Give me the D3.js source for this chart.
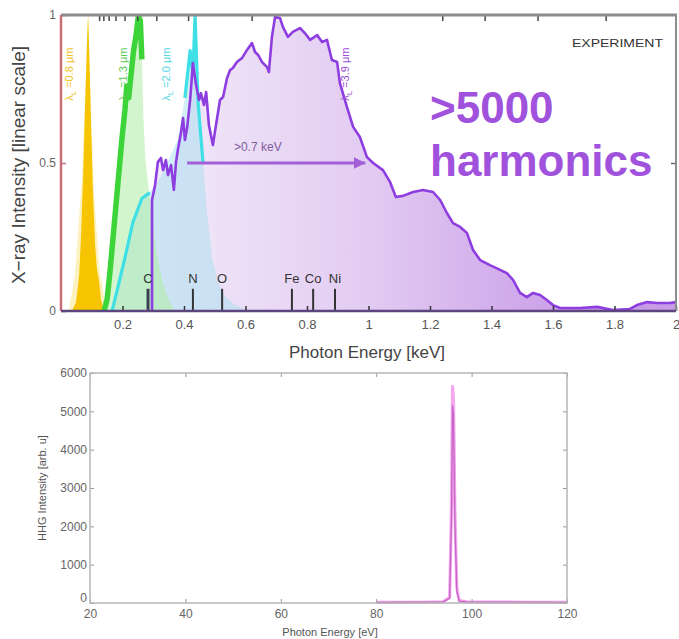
<!DOCTYPE html>
<html>
<head>
<meta charset="utf-8">
<script src="https://cdn.jsdelivr.net/npm/d3@7"></script>
<style>
  body { margin: 0; background: #fff; }
  svg { display: block; }
  text { font-family: "Liberation Sans", Arial, sans-serif; }
</style>
</head>
<body>
<svg id="fig" width="679" height="639"></svg>
<script>
// ---------- Upper panel: HHG spectra for four driving wavelengths ----------
const energyTicks = [0.2, 0.4, 0.6, 0.8, 1.0, 1.2, 1.4, 1.6, 1.8, 2.0];
const intensityTicks = [0, 0.5, 1];
const wavelengthTicksNm = [10, 9, 8, 7, 6, 5, 4, 3, 2, 1, 0.9, 0.8, 0.7];

// λL = 0.8 µm
const yellowEnergy    = [0.036, 0.049, 0.059, 0.065, 0.072, 0.078, 0.085, 0.088, 0.091, 0.098, 0.104, 0.111, 0.117, 0.124, 0.130, 0.140];
const yellowIntensity = [0, 0.03, 0.12, 0.25, 0.45, 0.68, 0.92, 1.0, 0.90, 0.62, 0.40, 0.22, 0.14, 0.10, 0.04, 0];
const yellowHaloEnergy    = [0.025, 0.045, 0.068, 0.088, 0.106, 0.125, 0.148];
const yellowHaloIntensity = [0, 0.12, 0.45, 1.0, 0.42, 0.14, 0];

// λL = 1.3 µm
const greenEnergy    = [0.140, 0.150, 0.160, 0.172, 0.185, 0.198, 0.208, 0.214, 0.220, 0.228, 0.236, 0.244, 0.252, 0.258, 0.263, 0.268, 0.274, 0.282, 0.295, 0.310, 0.330, 0.350, 0.370];
const greenIntensity = [0, 0.04, 0.14, 0.28, 0.43, 0.58, 0.68, 0.76, 0.72, 0.80, 0.88, 0.93, 1.0, 0.98, 0.85, 0.65, 0.52, 0.44, 0.32, 0.20, 0.10, 0.04, 0];
const greenEdgeLimit = 0.266;

// λL = 2.0 µm
const cyanEnergy    = [0.166, 0.185, 0.208, 0.234, 0.263, 0.289, 0.322, 0.354, 0.380, 0.403, 0.420, 0.429, 0.436, 0.446, 0.462, 0.475, 0.491, 0.511, 0.533, 0.566, 0.598, 0.615];
const cyanIntensity = [0, 0.08, 0.18, 0.30, 0.38, 0.40, 0.45, 0.52, 0.58, 0.72, 0.88, 0.80, 1.0, 0.70, 0.50, 0.33, 0.18, 0.10, 0.05, 0.02, 0.005, 0];

// λL = 3.9 µm
const purpleEnergy = [0.296, 0.296, 0.306, 0.315, 0.325, 0.332, 0.341, 0.348, 0.358, 0.367, 0.374, 0.380, 0.390, 0.397, 0.403, 0.410, 0.420, 0.429, 0.439, 0.449, 0.455, 0.465, 0.472, 0.481, 0.494, 0.504, 0.517, 0.527, 0.540, 0.550, 0.559, 0.572, 0.589, 0.605, 0.621, 0.631, 0.641, 0.654, 0.670, 0.676, 0.686, 0.696, 0.712, 0.722, 0.738, 0.754, 0.777, 0.793, 0.810, 0.833, 0.849, 0.865, 0.881, 0.898, 0.907, 0.930, 0.950, 0.972, 0.995, 1.015, 1.047, 1.070, 1.089, 1.112, 1.145, 1.177, 1.210, 1.233, 1.255, 1.275, 1.298, 1.320, 1.340, 1.363, 1.395, 1.428, 1.450, 1.470, 1.493, 1.515, 1.535, 1.558, 1.580, 1.600, 1.623, 1.688, 1.743, 1.795, 1.850, 1.873, 1.906, 1.938, 1.980, 2.000];
const purpleIntensity = [0, 0.375, 0.426, 0.503, 0.517, 0.476, 0.510, 0.459, 0.493, 0.409, 0.503, 0.544, 0.601, 0.652, 0.578, 0.618, 0.713, 0.838, 0.764, 0.713, 0.736, 0.696, 0.740, 0.628, 0.561, 0.628, 0.713, 0.723, 0.787, 0.814, 0.821, 0.841, 0.855, 0.882, 0.905, 0.875, 0.865, 0.841, 0.824, 0.807, 0.926, 0.993, 0.990, 0.959, 0.926, 0.943, 0.956, 0.939, 0.916, 0.932, 0.909, 0.916, 0.848, 0.841, 0.770, 0.689, 0.622, 0.588, 0.520, 0.500, 0.476, 0.436, 0.385, 0.389, 0.402, 0.409, 0.402, 0.375, 0.331, 0.297, 0.284, 0.264, 0.206, 0.172, 0.155, 0.139, 0.128, 0.105, 0.061, 0.047, 0.061, 0.054, 0.037, 0.020, 0.010, 0.010, 0.014, 0.003, 0.007, 0.020, 0.030, 0.027, 0.027, 0.030];

// absorption edges (keV)
const edgeNames    = ["C", "N", "O", "Fe", "Co", "Ni"];
const edgeEnergies = [0.283, 0.429, 0.524, 0.751, 0.820, 0.891];

// cutoff extension arrow
const arrowStart = 0.41, arrowEnd = 0.99, arrowLevel = 0.5;

const seriesLabels = ["0.8", "1.3", "2.0", "3.9"];
const seriesLabelEnergy = [0.040, 0.216, 0.356, 0.937];

// ---------- Lower panel: single-harmonic spectrum ----------
const hhgEnergyTicks = [20, 40, 60, 80, 100, 120];
const hhgIntensityTicks = [0, 1000, 2000, 3000, 4000, 5000, 6000];
const hhgEnergy        = [80, 90, 94, 95.4, 95.8, 96.0, 96.2, 96.5, 96.9, 97.4, 99, 110, 120];
const hhgIntensity     = [15, 20, 30, 150, 2600, 5650, 5300, 2400, 400, 60, 30, 20, 15];
const hhgIntensityCore = [15, 20, 30, 120, 2300, 5150, 4900, 2100, 300, 50, 30, 20, 15];

const zip = (xs, ys) => xs.map((x, i) => [x, ys[i]]);

const svg = d3.select("#fig");
const defs = svg.append("defs");

// ===== Upper panel =====
const xE = d3.scaleLinear().domain([0, 2]).range([61, 676]);
const yI = d3.scaleLinear().domain([0, 1]).range([311, 15]);

defs.append("clipPath").attr("id", "clipUpper")
  .append("rect").attr("x", xE(0)).attr("y", yI(1))
  .attr("width", xE(2) - xE(0)).attr("height", yI(0) - yI(1));

const grad = defs.append("linearGradient").attr("id", "purpleFill")
  .attr("gradientUnits", "userSpaceOnUse")
  .attr("x1", xE(0.3)).attr("x2", xE(1.7)).attr("y1", 0).attr("y2", 0);
grad.append("stop").attr("offset", 0).attr("stop-color", "#f3ebf9");
grad.append("stop").attr("offset", 0.5).attr("stop-color", "#e2cbf2");
grad.append("stop").attr("offset", 1).attr("stop-color", "#c89be7");

defs.append("marker").attr("id", "arrowHead")
  .attr("viewBox", "0 0 10 10").attr("refX", 10).attr("refY", 5)
  .attr("markerWidth", 5.5).attr("markerHeight", 3.8)
  .attr("orient", "auto")
  .append("path").attr("d", "M0,0L10,5L0,10Z").attr("fill", "#a25fd8");

const area = d3.area().x(d => xE(d[0])).y0(yI(0)).y1(d => yI(d[1]));
const line = d3.line().x(d => xE(d[0])).y(d => yI(d[1]));

const plot = svg.append("g").attr("clip-path", "url(#clipUpper)");

const purple = zip(purpleEnergy, purpleIntensity);
const cyan = zip(cyanEnergy, cyanIntensity);
const green = zip(greenEnergy, greenIntensity);
const yellow = zip(yellowEnergy, yellowIntensity);
const yellowHalo = zip(yellowHaloEnergy, yellowHaloIntensity);

plot.append("path").attr("d", area(purple)).attr("fill", "url(#purpleFill)");
plot.append("path").attr("d", area(cyan)).attr("fill", "#a6def0").attr("fill-opacity", 0.5);
plot.append("path").attr("d", area(green)).attr("fill", "#aeeca4").attr("fill-opacity", 0.55);
plot.append("path").attr("d", area(yellowHalo)).attr("fill", "#fbe68a").attr("fill-opacity", 0.55);
plot.append("path").attr("d", area(yellow)).attr("fill", "#f6c400");

const cyanEdge = d3.line().x(d => xE(d[0])).y(d => yI(d[1]))
  .defined(d => d[0] <= 0.29 || (d[0] >= 0.40 && d[0] <= 0.462));
plot.append("path").attr("d", cyanEdge(cyan))
  .attr("fill", "none").attr("stroke", "#3ee0e6").attr("stroke-width", 3.2)
  .attr("stroke-linejoin", "round");

plot.append("path")
  .attr("d", line(green.filter(d => d[0] <= greenEdgeLimit)))
  .attr("fill", "none").attr("stroke", "#3dd43a").attr("stroke-width", 5.5)
  .attr("stroke-linejoin", "round");

plot.append("path").attr("d", line(purple))
  .attr("fill", "none").attr("stroke", "#8e3de0").attr("stroke-width", 2.6)
  .attr("stroke-linejoin", "round");

// absorption edges
const edges = svg.append("g");
edgeNames.forEach((name, i) => {
  const x = xE(edgeEnergies[i]);
  edges.append("line").attr("x1", x).attr("x2", x)
    .attr("y1", yI(0)).attr("y2", yI(0.075))
    .attr("stroke", i === 0 ? "#3d3f52" : "#333").attr("stroke-width", i === 0 ? 3 : 2);
  edges.append("text").attr("x", x).attr("y", yI(0.095))
    .attr("text-anchor", "middle").attr("font-size", 13).attr("fill", "#333")
    .text(name);
});

// >0.7 keV arrow
svg.append("line")
  .attr("x1", xE(arrowStart)).attr("x2", xE(arrowEnd))
  .attr("y1", yI(arrowLevel)).attr("y2", yI(arrowLevel))
  .attr("stroke", "#a25fd8").attr("stroke-width", 3)
  .attr("marker-end", "url(#arrowHead)");
svg.append("text")
  .attr("x", xE((arrowStart + arrowEnd) / 2 - 0.06)).attr("y", yI(arrowLevel) - 12)
  .attr("text-anchor", "middle").attr("font-size", 12).attr("fill", "#7c5d9c")
  .text(">0.7 keV");

// wavelength labels (rotated)
const labelColors = ["#f2c21c", "#5ccc58", "#52d6e4", "#9a4fd6"];
seriesLabels.forEach((w, i) => {
  const t = svg.append("text")
    .attr("transform", `translate(${xE(seriesLabelEnergy[i])},${yI(0.71)}) rotate(-90)`)
    .attr("font-size", 11).attr("fill", labelColors[i]);
  t.append("tspan").text("λ");
  t.append("tspan").attr("font-size", 8).attr("dy", 3).text("L");
  t.append("tspan").attr("dy", -3).text(` =${w} μm`);
});

// frame & axes
const axisG = svg.append("g");
const xAxis = d3.axisBottom(xE).tickValues(energyTicks).tickSize(-5).tickPadding(9)
  .tickFormat(d3.format("~g"));
const gx = axisG.append("g").attr("transform", `translate(0,${yI(0)})`).call(xAxis);
gx.select(".domain").remove();
gx.selectAll("line").attr("stroke", "#333").attr("stroke-width", 1.5);
gx.selectAll("text").attr("font-size", 13).attr("fill", "#555").attr("font-family", "Liberation Sans, Arial, sans-serif");

const yAxis = d3.axisLeft(yI).tickValues(intensityTicks).tickSize(-5).tickPadding(5)
  .tickFormat(d3.format("~g"));
const gy = axisG.append("g").attr("transform", `translate(${xE(0)},0)`).call(yAxis);
gy.select(".domain").remove();
gy.selectAll("line").attr("stroke", "#c8707a").attr("stroke-width", 1.5);
gy.selectAll("text").attr("font-size", 12).attr("fill", "#666").attr("font-family", "Liberation Sans, Arial, sans-serif");

const yAxisR = d3.axisRight(yI).tickValues([0.5]).tickSize(-5).tickFormat("");
const gyr = axisG.append("g").attr("transform", `translate(${xE(2)},0)`).call(yAxisR);
gyr.select(".domain").remove();
gyr.selectAll("line").attr("stroke", "#666").attr("stroke-width", 1.5);

const xAxisTop = d3.axisTop(xE).tickValues(wavelengthTicksNm.map(l => 1.23984 / l))
  .tickSize(-6).tickFormat("");
const gxt = axisG.append("g").attr("transform", `translate(0,${yI(1)})`).call(xAxisTop);
gxt.select(".domain").remove();
gxt.selectAll("line").attr("stroke", "#444").attr("stroke-width", 1.5);

axisG.append("line").attr("x1", xE(0)).attr("x2", xE(2) + 1).attr("y1", yI(1)).attr("y2", yI(1))
  .attr("stroke", "#8c8c8c").attr("stroke-width", 3);
axisG.append("line").attr("x1", xE(2)).attr("x2", xE(2)).attr("y1", yI(1)).attr("y2", yI(0))
  .attr("stroke", "#8c8c8c").attr("stroke-width", 2);
axisG.append("line").attr("x1", xE(0)).attr("x2", xE(0)).attr("y1", yI(1)).attr("y2", yI(0))
  .attr("stroke", "#c8707a").attr("stroke-width", 2.5);
axisG.append("line").attr("x1", xE(0)).attr("x2", xE(2)).attr("y1", yI(0)).attr("y2", yI(0))
  .attr("stroke", "#5d4680").attr("stroke-width", 2.5);

svg.append("text").attr("x", 367).attr("y", 358).attr("text-anchor", "middle")
  .attr("font-size", 17).attr("fill", "#444").text("Photon Energy [keV]");
svg.append("text")
  .attr("transform", `translate(25,${(yI(0) + yI(1)) / 2 + 2}) rotate(-90)`)
  .attr("text-anchor", "middle").attr("font-size", 19).attr("fill", "#444")
  .text("X\u2212ray Intensity [linear scale]");

svg.append("text").attr("x", 572).attr("y", 47).attr("font-size", 11).attr("fill", "#333")
  .attr("textLength", 91).attr("lengthAdjust", "spacingAndGlyphs").text("EXPERIMENT");

svg.append("text").attr("x", 430).attr("y", 123).attr("font-size", 44).attr("font-weight", "bold")
  .attr("fill", "#a052dc").text(">5000");
svg.append("text").attr("x", 430).attr("y", 176).attr("font-size", 44).attr("font-weight", "bold")
  .attr("fill", "#a052dc").text("harmonics");

// ===== Lower panel =====
const xB = d3.scaleLinear().domain([20, 120]).range([90, 567]);
const yB = d3.scaleLinear().domain([0, 6000]).range([603, 373]);

const lowerLine = d3.line().x(d => xB(d[0])).y(d => yB(d[1]));
svg.append("path").attr("d", lowerLine(zip(hhgEnergy, hhgIntensity)))
  .attr("fill", "none").attr("stroke", "#f3a8ee").attr("stroke-width", 3.2)
  .attr("stroke-linejoin", "round");
svg.append("path").attr("d", lowerLine(zip(hhgEnergy, hhgIntensityCore)))
  .attr("fill", "none").attr("stroke", "#c764c6").attr("stroke-width", 1.3)
  .attr("stroke-linejoin", "round");

const lower = svg.append("g");
const bx = lower.append("g").attr("transform", `translate(0,${yB(0)})`)
  .call(d3.axisBottom(xB).tickValues(hhgEnergyTicks).tickSize(-4).tickPadding(6)
    .tickFormat(d3.format("d")));
const by = lower.append("g").attr("transform", `translate(${xB(20)},0)`)
  .call(d3.axisLeft(yB).tickValues(hhgIntensityTicks).tickSize(-4).tickPadding(3)
    .tickFormat(d3.format("d")));
const bt = lower.append("g").attr("transform", `translate(0,${yB(6000)})`)
  .call(d3.axisTop(xB).tickValues(hhgEnergyTicks).tickSize(-4).tickFormat(""));
const br = lower.append("g").attr("transform", `translate(${xB(120)},0)`)
  .call(d3.axisRight(yB).tickValues(hhgIntensityTicks).tickSize(-4).tickFormat(""));
[bx, by, bt, br].forEach(g => {
  g.select(".domain").remove();
  g.selectAll("line").attr("stroke", "#999").attr("stroke-width", 1);
  g.selectAll("text").attr("font-size", 12).attr("fill", "#666").attr("font-family", "Liberation Sans, Arial, sans-serif");
});
// the zero label sits just above the first energy label
by.selectAll(".tick").filter(d => d === 0).select("text").attr("dy", "-0.1em");

lower.append("rect").attr("x", xB(20)).attr("y", yB(6000))
  .attr("width", xB(120) - xB(20)).attr("height", yB(0) - yB(6000))
  .attr("fill", "none").attr("stroke", "#b5b5b5").attr("stroke-width", 1.5);

svg.append("text").attr("x", 330).attr("y", 636).attr("text-anchor", "middle")
  .attr("font-size", 11).attr("fill", "#555").text("Photon Energy [eV]");
svg.append("text")
  .attr("transform", `translate(46,${(yB(0) + yB(6000)) / 2}) rotate(-90)`)
  .attr("text-anchor", "middle").attr("font-size", 11).attr("fill", "#555")
  .text("HHG Intensity [arb. u]");
</script>
</body>
</html>
